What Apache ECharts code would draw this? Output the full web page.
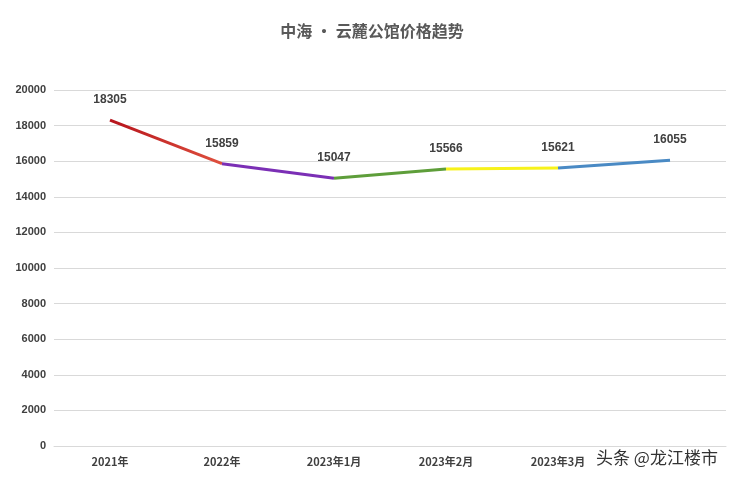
<!DOCTYPE html>
<html><head><meta charset="utf-8">
<script src="https://cdn.jsdelivr.net/npm/echarts@6/dist/echarts.min.js"></script>
<style>html,body{margin:0;padding:0;background:#fff}#c{width:744px;height:481px}</style>
</head><body><div id="c"></div>
<script>
const categories = ['2021年','2022年','2023年1月','2023年2月','2023年3月','2023年4月'];
const prices = [18305, 15859, 15047, 15566, 15621, 16055];
const segColors = [
  {type:'linear',x:0,y:0,x2:1,y2:0,colorStops:[{offset:0,color:'#b5121b'},{offset:1,color:'#e0523f'}]},
  '#7b2fb5', '#5e9e3a', '#f7f21a', '#4a8ac4'
];
const series = segColors.map((c,i)=>({
  type:'line', symbol:'none', silent:true,
  lineStyle:{color:c,width:3},
  data: prices.map((v,j)=> (j===i||j===i+1)? v : null)
}));
series.push({type:'line', symbol:'circle', symbolSize:1, itemStyle:{color:'rgba(0,0,0,0)'}, lineStyle:{width:0, color:'rgba(0,0,0,0)'}, data:prices,
  label:{show:true, position:'top', distance:14, color:'#404040', fontWeight:'bold', fontSize:12}});
const chart = echarts.init(document.getElementById('c'));
chart.setOption({
  animation:false,
  title:{text:'中海 · 云麓公馆价格趋势', left:'center', top:18,
    textStyle:{color:'#595959', fontSize:16, fontWeight:'bold', fontFamily:'Noto Sans CJK SC'}},
  grid:{left:54, right:18, top:90, bottom:35},
  xAxis:{type:'category', data:categories, boundaryGap:true,
    axisLine:{lineStyle:{color:'#d9d9d9'}}, axisTick:{show:false},
    axisLabel:{color:'#404040', fontWeight:'bold', fontSize:11, fontFamily:'Noto Sans CJK SC', margin:10}},
  yAxis:{type:'value', min:0, max:20000, interval:2000,
    axisLine:{show:false}, axisTick:{show:false},
    splitLine:{lineStyle:{color:'#d9d9d9'}},
    axisLabel:{color:'#404040', fontWeight:'bold', fontSize:11, margin:8, formatter:v=>String(v)}},
  graphic:[{type:'rect', z:100, left:590, top:448, shape:{width:154,height:33}, style:{fill:'#fff'}},
    {type:'text', z:101, left:596, top:449, style:{text:'头条 @龙江楼市', fill:'#333', fontSize:17, fontFamily:'Noto Sans CJK SC'}}],
  series
});
</script></body></html>
